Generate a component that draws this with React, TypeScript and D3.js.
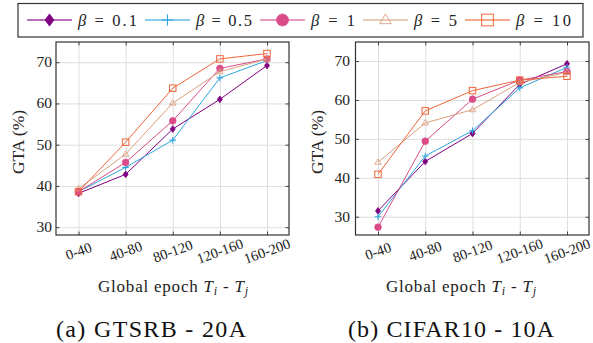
import React, { useEffect, useRef } from "react";
import * as d3 from "d3";

// epochs on the x axis
const epochs = ["0-40", "40-80", "80-120", "120-160", "160-200"];

// legend labels (beta values)
const betas = ["0.1", "0.5", "1", "5", "10"];
const colors = ["#800080", "#2fa5dd", "#d94c88", "#d9a07f", "#f0663a"];
const markers = ["diamond", "plus", "circle", "triangle", "square"];

// GTSRB - 20A
const gtsrb01 = [38.2, 42.8, 53.8, 61.0, 69.2];
const gtsrb05 = [38.6, 44.5, 51.1, 66.2, 70.4];
const gtsrb1 = [38.6, 45.7, 55.8, 68.5, 70.8];
const gtsrb5 = [39.3, 47.7, 60.1, 67.7, 70.8];
const gtsrb10 = [38.6, 50.6, 63.7, 70.8, 72.1];

// CIFAR10 - 10A
const cifar01 = [31.5, 44.2, 51.4, 64.0, 69.3];
const cifar05 = [30.0, 45.6, 52.1, 63.1, 68.4];
const cifar1 = [27.3, 49.4, 60.2, 65.1, 67.3];
const cifar5 = [44.0, 54.1, 57.5, 64.5, 67.1];
const cifar10 = [40.9, 57.2, 62.4, 65.1, 66.1];

const yTicks = [30, 40, 50, 60, 70];

const FONT = "'Liberation Serif', serif";

function drawMarker(g, kind, x, y, s, color) {
  if (kind === "diamond") {
    g.append("path")
      .attr("d", `M${x},${y - s * 1.35}L${x + s},${y}L${x},${y + s * 1.35}L${x - s},${y}Z`)
      .attr("fill", color).attr("stroke", color).attr("stroke-width", 0.8);
  } else if (kind === "plus") {
    g.append("path")
      .attr("d", `M${x - s * 1.3},${y}H${x + s * 1.3}M${x},${y - s * 1.3}V${y + s * 1.3}`)
      .attr("stroke", color).attr("stroke-width", 1.1).attr("fill", "none");
  } else if (kind === "circle") {
    g.append("circle").attr("cx", x).attr("cy", y).attr("r", s * 1.35)
      .attr("fill", color).attr("stroke", color).attr("stroke-width", 0.6);
  } else if (kind === "triangle") {
    const h = s * 1.35;
    g.append("path")
      .attr("d", `M${x},${y - h}L${x + h * 0.95},${y + h * 0.6}L${x - h * 0.95},${y + h * 0.6}Z`)
      .attr("fill", "none").attr("stroke", color).attr("stroke-width", 0.9);
  } else {
    const h = s * 1.3;
    g.append("rect").attr("x", x - h).attr("y", y - h).attr("width", h * 2).attr("height", h * 2)
      .attr("fill", "none").attr("stroke", color).attr("stroke-width", 1);
  }
}

function drawPanel(svg, opts) {
  const { left, right, top, bottom, yDomain, series, ylabelX, tickX, xlabelX, caption, captionX, captionW } = opts;
  const x = d3.scalePoint().domain(epochs).range([left + 22.5, right - 22]);
  const y = d3.scaleLinear().domain(yDomain).range([bottom, top]);
  const g = svg.append("g");

  // grid
  g.append("g")
    .attr("transform", `translate(0,${bottom})`)
    .call(d3.axisBottom(x).tickSize(-(bottom - top)).tickFormat(() => ""))
    .call(a => a.select(".domain").remove())
    .call(a => a.selectAll("line").attr("stroke", "#dedede").attr("stroke-width", 1));
  g.append("g")
    .attr("transform", `translate(${left},0)`)
    .call(d3.axisLeft(y).tickValues(yTicks).tickSize(-(right - left)).tickFormat(() => ""))
    .call(a => a.select(".domain").remove())
    .call(a => a.selectAll("line").attr("stroke", "#dedede").attr("stroke-width", 1));

  // small inner ticks
  g.append("g").attr("transform", `translate(0,${bottom})`)
    .call(d3.axisBottom(x).tickSize(-3.5).tickFormat(() => ""))
    .call(a => a.select(".domain").remove())
    .call(a => a.selectAll("line").attr("stroke", "#444"));
  g.append("g").attr("transform", `translate(0,${top})`)
    .call(d3.axisTop(x).tickSize(-3.5).tickFormat(() => ""))
    .call(a => a.select(".domain").remove())
    .call(a => a.selectAll("line").attr("stroke", "#444"));
  g.append("g").attr("transform", `translate(${left},0)`)
    .call(d3.axisLeft(y).tickValues(yTicks).tickSize(-3.5).tickFormat(() => ""))
    .call(a => a.select(".domain").remove())
    .call(a => a.selectAll("line").attr("stroke", "#444"));
  g.append("g").attr("transform", `translate(${right},0)`)
    .call(d3.axisRight(y).tickValues(yTicks).tickSize(-3.5).tickFormat(() => ""))
    .call(a => a.select(".domain").remove())
    .call(a => a.selectAll("line").attr("stroke", "#444"));

  // y tick labels
  yTicks.forEach(t => {
    g.append("text").attr("x", tickX).attr("y", y(t) + 5)
      .attr("text-anchor", "end").style("font-family", FONT).attr("font-size", 15.5)
      .attr("fill", "#222").text(t);
  });

  // x tick labels (rotated)
  epochs.forEach(e => {
    g.append("text")
      .attr("transform", `translate(${x(e)},${bottom + 16}) rotate(-20)`)
      .attr("text-anchor", "middle").attr("dy", "0.35em")
      .style("font-family", FONT).attr("font-size", 14.5).attr("fill", "#222").text(e);
  });

  // series
  const line = d3.line().x((d, i) => x(epochs[i])).y(d => y(d));
  series.forEach((vals, k) => {
    g.append("path").datum(vals).attr("d", line).attr("fill", "none")
      .attr("stroke", colors[k]).attr("stroke-width", 1);
    vals.forEach((v, i) => drawMarker(g, markers[k], x(epochs[i]), y(v), 2.5, colors[k]));
  });

  // frame
  g.append("rect").attr("x", left).attr("y", top).attr("width", right - left).attr("height", bottom - top)
    .attr("fill", "none").attr("stroke", "#333").attr("stroke-width", 1.2);

  // axis titles
  g.append("text")
    .attr("transform", `translate(${ylabelX},142) rotate(-90)`)
    .attr("text-anchor", "middle").attr("dy", "0.35em")
    .style("font-family", FONT).attr("font-size", 17.5).attr("fill", "#222").text("GTA (%)");
  const xt = g.append("text").attr("x", xlabelX - 75).attr("y", 292)
    .style("font-family", FONT).attr("font-size", 17).attr("fill", "#222")
    .attr("textLength", 150).attr("lengthAdjust", "spacing");
  xt.append("tspan").text("Global epoch ");
  xt.append("tspan").attr("font-style", "italic").text("T");
  xt.append("tspan").attr("font-style", "italic").attr("font-size", 12).attr("dy", 3).text("i");
  xt.append("tspan").attr("dy", -3).text(" - ");
  xt.append("tspan").attr("font-style", "italic").text("T");
  xt.append("tspan").attr("font-style", "italic").attr("font-size", 12).attr("dy", 3).text("j");

  g.append("text").attr("x", captionX - captionW / 2).attr("y", 337)
    .style("font-family", FONT).attr("font-size", 24).attr("fill", "#111")
    .attr("textLength", captionW).attr("lengthAdjust", "spacing")
    .text(caption);
}

function drawLegend(svg) {
  const g = svg.append("g");
  g.append("rect").attr("x", 18).attr("y", 3.5).attr("width", 565).attr("height", 33.5)
    .attr("fill", "#fff").attr("stroke", "#333").attr("stroke-width", 1.2);
  const textW = [59, 56, 44, 43, 55];
  let cx = 27;
  betas.forEach((b, k) => {
    const cy = 20;
    g.append("line").attr("x1", cx).attr("x2", cx + 45).attr("y1", cy).attr("y2", cy)
      .attr("stroke", colors[k]).attr("stroke-opacity", 0.75).attr("stroke-width", 1.3);
    drawMarker(g, markers[k], cx + 22.5, cy, 4.5, colors[k]);
    const t = g.append("text").attr("x", cx + 51).attr("y", cy + 5.5)
      .style("font-family", FONT).attr("font-size", 16.5).attr("fill", "#222")
      .attr("textLength", textW[k]).attr("lengthAdjust", "spacing");
    t.append("tspan").attr("font-style", "italic").text("β");
    t.append("tspan").text(" = " + b);
    cx += 51 + textW[k] + 8;
  });
}

export default function App() {
  const ref = useRef(null);
  useEffect(() => {
    const svg = d3.select(ref.current);
    svg.selectAll("*").remove();
    drawLegend(svg);
    drawPanel(svg, {
      left: 56, right: 289, top: 42, bottom: 235, yDomain: [28.1, 74.9],
      series: [gtsrb01, gtsrb05, gtsrb1, gtsrb5, gtsrb10],
      ylabelX: 18, tickX: 52, xlabelX: 173,
      caption: "(a) GTSRB - 20A", captionX: 151, captionW: 190,
    });
    drawPanel(svg, {
      left: 355.5, right: 589, top: 42, bottom: 235, yDomain: [25.3, 74.9],
      series: [cifar01, cifar05, cifar1, cifar5, cifar10],
      ylabelX: 317, tickX: 350, xlabelX: 461,
      caption: "(b) CIFAR10 - 10A", captionX: 451, captionW: 206,
    });
  }, []);
  return (
    <div style={{ position: "absolute", left: 0, top: 0 }}>
      <svg ref={ref} width={593} height={343} style={{ display: "block", background: "#fff" }} />
    </div>
  );
}
